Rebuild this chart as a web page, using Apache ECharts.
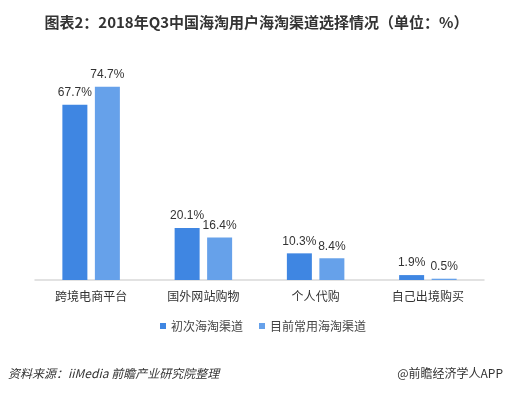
<!DOCTYPE html>
<html><head><meta charset="utf-8">
<script src="https://cdn.jsdelivr.net/npm/echarts@6/dist/echarts.min.js"></script>
<style>html,body{margin:0;padding:0;background:#fff}#c{width:513px;height:394px}</style>
</head><body><div id="c"></div>
<script>
const categories = ['跨境电商平台', '国外网站购物', '个人代购', '自己出境购买'];
const seriesNames = ['初次海淘渠道', '目前常用海淘渠道'];
const firstChannel = [67.7, 20.1, 10.3, 1.9];
const currentChannel = [74.7, 16.4, 8.4, 0.5];
const titleText = '图表2：2018年Q3中国海淘用户海淘渠道选择情况（单位：%）';
const sourceText = '资料来源：iiMedia 前瞻产业研究院整理';
const brandText = '@前瞻经济学人APP';

const font = '"Microsoft YaHei","Noto Sans CJK SC",sans-serif';
const numFont = 'Arial,"Liberation Sans",sans-serif';
const chart = echarts.init(document.getElementById('c'), null, {renderer: 'canvas'});
const lbl = {show: true, position: 'top', distance: 6, color: '#333', fontSize: 12, fontFamily: numFont,
  formatter: p => p.value + '%'};
chart.setOption({
  animation: false,
  textStyle: {fontFamily: font},
  title: [
    {text: titleText, left: 'center', top: 10, textStyle: {fontSize: 15, fontWeight: 'bold', color: '#333', fontFamily: font}},
    {text: sourceText, left: 8, top: 367, padding: 0, textStyle: {fontSize: 12, fontWeight: 'normal', fontStyle: 'italic', color: '#333', fontFamily: font}},
    {text: brandText, right: 10, top: 367, padding: 0, textStyle: {fontSize: 12, fontWeight: 'normal', color: '#333', fontFamily: font}}
  ],
  legend: {
    data: seriesNames, left: 160, top: 320, padding: 0, itemWidth: 6, itemHeight: 6, itemGap: 16, icon: 'rect',
    textStyle: {fontSize: 12, color: '#444', fontFamily: font}
  },
  grid: {left: 35, right: 29, top: 73, bottom: 114},
  xAxis: {
    type: 'category', data: categories,
    axisLine: {lineStyle: {color: '#d9d9d9', width: 1.5}},
    axisTick: {show: false},
    axisLabel: {color: '#333', fontSize: 12, margin: 10, fontFamily: font}
  },
  yAxis: {type: 'value', min: 0, max: 80, show: false, splitLine: {show: false}},
  series: [
    {name: seriesNames[0], type: 'bar', data: firstChannel, barWidth: 25, barGap: '30%',
      itemStyle: {color: '#3f86e2'}, label: lbl},
    {name: seriesNames[1], type: 'bar', data: currentChannel, barWidth: 25,
      itemStyle: {color: '#66a1ea'}, label: lbl}
  ]
});
</script></body></html>
